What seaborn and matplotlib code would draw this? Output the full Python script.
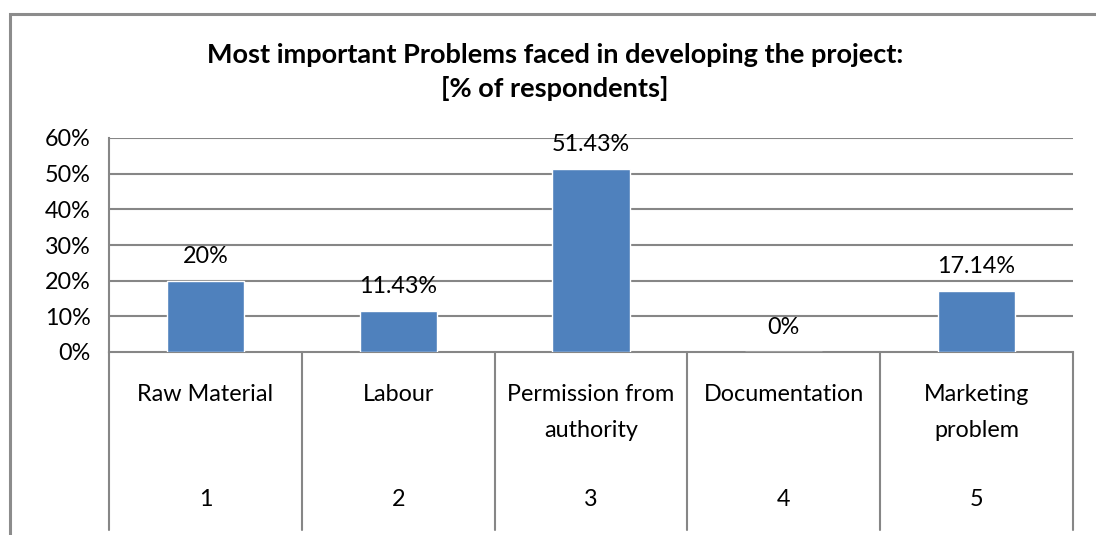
import matplotlib
matplotlib.use("Agg")
import matplotlib.pyplot as plt
from matplotlib.patches import Rectangle
from matplotlib.lines import Line2D
import matplotlib.transforms as mtransforms
import seaborn as sns
import pandas as pd

# Survey results
categories = ["Raw Material", "Labour", "Permission from\nauthority", "Documentation", "Marketing\nproblem"]
category_numbers = ["1", "2", "3", "4", "5"]
shares = [20.0, 11.43, 51.43, 0.0, 17.14]
value_labels = ["20%", "11.43%", "51.43%", "0%", "17.14%"]
yticks = [0, 10, 20, 30, 40, 50, 60]
ytick_labels = ["0%", "10%", "20%", "30%", "40%", "50%", "60%"]
title = "Most important Problems faced in developing the project:\n[% of respondents]"

sns.set_theme(style="white")
plt.rcParams["font.family"] = ["Lato", "DejaVu Sans"]

W, H = 1096, 535
fig = plt.figure(figsize=(W / 100, H / 100), dpi=100)

FS = 16.8

# Plot area in pixel coordinates
x0, x1 = 109, 1073
y_top, y_zero = 138, 352
ax = fig.add_axes([x0 / W, (H - y_zero) / H, (x1 - x0) / W, (y_zero - y_top) / H])

df = pd.DataFrame({"cat": category_numbers, "share": shares})
sns.barplot(data=df, x="cat", y="share", color="#4F81BD", width=0.4,
            saturation=1, ax=ax, zorder=3)

grid_color = "#868686"
ax.set_ylim(0, 60)
ax.set_xlim(-0.5, 4.5)
ax.set_yticks(yticks)
ax.set_yticklabels(ytick_labels, fontsize=FS, color="black")
ax.tick_params(axis="y", length=8, width=1.5, color=grid_color, pad=5)
ax.tick_params(axis="x", bottom=False, labelbottom=False)
ax.set_xlabel("")
ax.set_ylabel("")
for y in yticks[1:]:
    ax.axhline(y, color=grid_color, lw=1.5, zorder=1)
for side in ["top", "right"]:
    ax.spines[side].set_visible(False)
ax.spines["left"].set_color(grid_color)
ax.spines["left"].set_linewidth(1.5)
ax.spines["bottom"].set_color(grid_color)
ax.spines["bottom"].set_linewidth(1.5)

# Value labels above the bars
for i, (v, lab) in enumerate(zip(shares, value_labels)):
    ax.annotate(lab, (i, v), xytext=(0, 10), textcoords="offset points",
                ha="center", va="bottom", fontsize=FS, color="black")

# Multi-level category axis below the plot
trans = mtransforms.blended_transform_factory(ax.transData, ax.transAxes)
axes_h = y_zero - y_top
sep_bottom = -(530 - y_zero) / axes_h
for xs in [-0.5, 0.5, 1.5, 2.5, 3.5, 4.5]:
    ax.add_line(Line2D([xs, xs], [0, sep_bottom], transform=trans, color=grid_color,
                       lw=1.5, clip_on=False))
for i, (name, num) in enumerate(zip(categories, category_numbers)):
    ax.text(i, -(384 - y_zero) / axes_h, name, transform=trans, ha="center", va="top",
            fontsize=FS, linespacing=1.9, color="black")
    ax.text(i, -(500 - y_zero) / axes_h, num, transform=trans, ha="center", va="center",
            fontsize=FS, color="black")

# Title
fig.text(555 / W, 1 - 72 / H, title, ha="center", va="center", fontsize=19.5,
         fontweight="bold", linespacing=1.45, color="black")

# Chart frame
fig.patches.append(Rectangle((10 / W, -0.2), 1.2, 1.2 - 13.5 / H, transform=fig.transFigure,
                             fill=False, edgecolor="#8C8C8C", lw=2.2))

fig.savefig("out.png", dpi=100)
